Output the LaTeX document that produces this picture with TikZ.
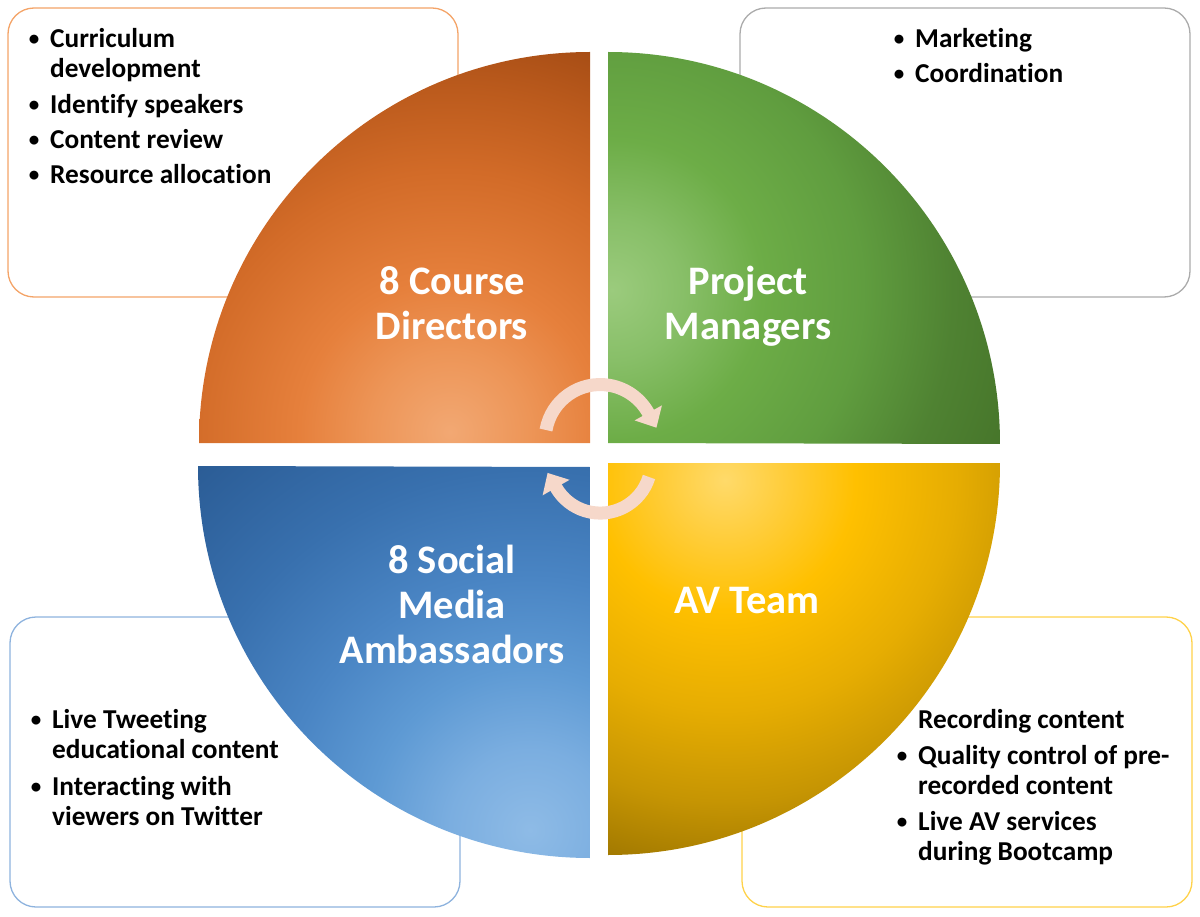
\documentclass[tikz,border=0pt]{standalone}
\usepackage{fontspec}
\setmainfont{Carlito}[RawFeature={-liga}]
\usetikzlibrary{arrows.meta}

\definecolor{peach}{HTML}{F6D8CA}
\definecolor{boxOr}{HTML}{F4A468}
\definecolor{boxGr}{HTML}{ABABAB}
\definecolor{boxBl}{HTML}{8EB3DE}
\definecolor{boxYe}{HTML}{FFD24A}

\pgfdeclareradialshading{orglow}{\pgfpoint{0bp}{0bp}}{%
  rgb(0bp)=(0.949,0.659,0.451); rgb(80bp)=(0.929,0.584,0.341);
  rgb(150bp)=(0.902,0.502,0.235); rgb(260bp)=(0.824,0.420,0.157);
  rgb(340bp)=(0.737,0.357,0.114); rgb(420bp)=(0.635,0.290,0.075);
  rgb(600bp)=(0.600,0.270,0.070)}
\pgfdeclareradialshading{grglow}{\pgfpoint{0bp}{0bp}}{%
  rgb(0bp)=(0.608,0.796,0.490); rgb(70bp)=(0.533,0.749,0.408);
  rgb(150bp)=(0.427,0.678,0.278); rgb(250bp)=(0.376,0.616,0.247);
  rgb(340bp)=(0.310,0.510,0.196); rgb(420bp)=(0.275,0.459,0.165);
  rgb(600bp)=(0.260,0.430,0.150)}
\pgfdeclareradialshading{blglow}{\pgfpoint{0bp}{0bp}}{%
  rgb(0bp)=(0.557,0.733,0.902); rgb(80bp)=(0.482,0.682,0.878);
  rgb(160bp)=(0.369,0.604,0.831); rgb(250bp)=(0.290,0.522,0.769);
  rgb(360bp)=(0.220,0.439,0.682); rgb(500bp)=(0.165,0.357,0.580);
  rgb(650bp)=(0.150,0.340,0.560)}
\pgfdeclareradialshading{yeglow}{\pgfpoint{0bp}{0bp}}{%
  rgb(0bp)=(1.000,0.855,0.416); rgb(60bp)=(1.000,0.804,0.227);
  rgb(130bp)=(1.000,0.753,0.000); rgb(230bp)=(0.902,0.678,0.008);
  rgb(320bp)=(0.776,0.584,0.012); rgb(400bp)=(0.620,0.463,0.000);
  rgb(600bp)=(0.590,0.440,0.000)}

\tikzset{
  infobox/.style={rounded corners=26pt, line width=1.3pt, fill=white},
  glow/.style={inner sep=0pt, outer sep=0pt},
  btext/.style={anchor=base west, inner sep=0pt, font=\bfseries\fontsize{27.3}{30}\selectfont, text=black},
  bdot/.style={anchor=base, inner sep=0pt, font=\bfseries\fontsize{21}{30}\selectfont, text=black},
  qlabel/.style={anchor=base, inner sep=0pt, font=\bfseries\fontsize{40.5}{45}\selectfont, text=white},
  cyclearrow/.style={draw=peach, line width=13pt, -{Triangle[width=30pt,length=17pt]}}
}

\begin{document}
\begin{tikzpicture}[x=1pt,y=-1pt]
\useasboundingbox (0,0) rectangle (1200,917);

% info boxes (behind)
\draw[infobox, draw=boxOr] (8,8) rectangle (458,297);
\draw[infobox, draw=boxGr] (740,8) rectangle (1190,297);
\draw[infobox, draw=boxBl] (10,617) rectangle (460,907);
\draw[infobox, draw=boxYe] (742,617) rectangle (1192,907);

% quadrants
\begin{scope}
  \clip (590,443) -- (199,443) arc (180:270:391) -- cycle;
  \node[glow] (gor) at (450,432) {\pgfuseshading{orglow}};
\end{scope}
\begin{scope}
  \clip (608,443) -- (608,52) arc (270:360:392) -- cycle;
  \node[glow] (ggr) at (612,290) {\pgfuseshading{grglow}};
\end{scope}
\begin{scope}
  \clip (590,467) -- (590,858) arc (90:180:392) -- cycle;
  \node[glow] (gbl) at (530,830) {\pgfuseshading{blglow}};
\end{scope}
\begin{scope}
  \clip (608,463) -- (1000,463) arc (0:90:392) -- cycle;
  \node[glow] (gye) at (725,480) {\pgfuseshading{yeglow}};
\end{scope}

% quadrant labels
\node[qlabel] (cd1) at (452,295) {8 Course};
\node[qlabel] (cd2) at (452,340) {Directors};
\node[qlabel] (pm1) at (748,295) {Project};
\node[qlabel] (pm2) at (748,340) {Managers};
\node[qlabel] (sm1) at (452,573) {8 Social};
\node[qlabel] (sm2) at (452,618) {Media};
\node[qlabel] (sm3) at (452,663) {Ambassadors};
\node[qlabel] (av1) at (747,613) {AV Team};

% cycle arrows
\draw[cyclearrow] (546,430) arc (190:331:55) -- ++(8.2,14.9);
\draw[cyclearrow] (649,477) arc (17:150:51) -- ++(-8.5,-14.7);

% top-left list
\node[bdot] (tl0) at (34,46) {•};
\node[btext] (tl1) at (50,48) {Curriculum};
\node[btext] (tl2) at (50,78) {development};
\node[bdot] (tl3) at (34,112) {•};
\node[btext] (tl4) at (50,114) {Identify speakers};
\node[bdot] (tl5) at (34,147) {•};
\node[btext] (tl6) at (50,149) {Content review};
\node[bdot] (tl7) at (34,182) {•};
\node[btext] (tl8) at (50,184) {Resource allocation};

% top-right list
\node[bdot] (tr0) at (899,46) {•};
\node[btext] (tr1) at (915,48) {Marketing};
\node[bdot] (tr2) at (899,81) {•};
\node[btext] (tr3) at (915,83) {Coordination};

% bottom-left list
\node[bdot] (bl0) at (36,726) {•};
\node[btext] (bl1) at (52,728) {Live Tweeting};
\node[btext] (bl2) at (52,758) {educational content};
\node[bdot] (bl3) at (36,793) {•};
\node[btext] (bl4) at (52,795) {Interacting with};
\node[btext] (bl5) at (52,825) {viewers on Twitter};

% bottom-right list
\node[btext] (br1) at (918,728) {Recording content};
\node[bdot] (br2) at (902,762) {•};
\node[btext] (br3) at (918,764) {Quality control of pre-};
\node[btext] (br4) at (918,794) {recorded content};
\node[bdot] (br5) at (902,828) {•};
\node[btext] (br6) at (918,830) {Live AV services};
\node[btext] (br7) at (918,860) {during Bootcamp};
\end{tikzpicture}
\end{document}
